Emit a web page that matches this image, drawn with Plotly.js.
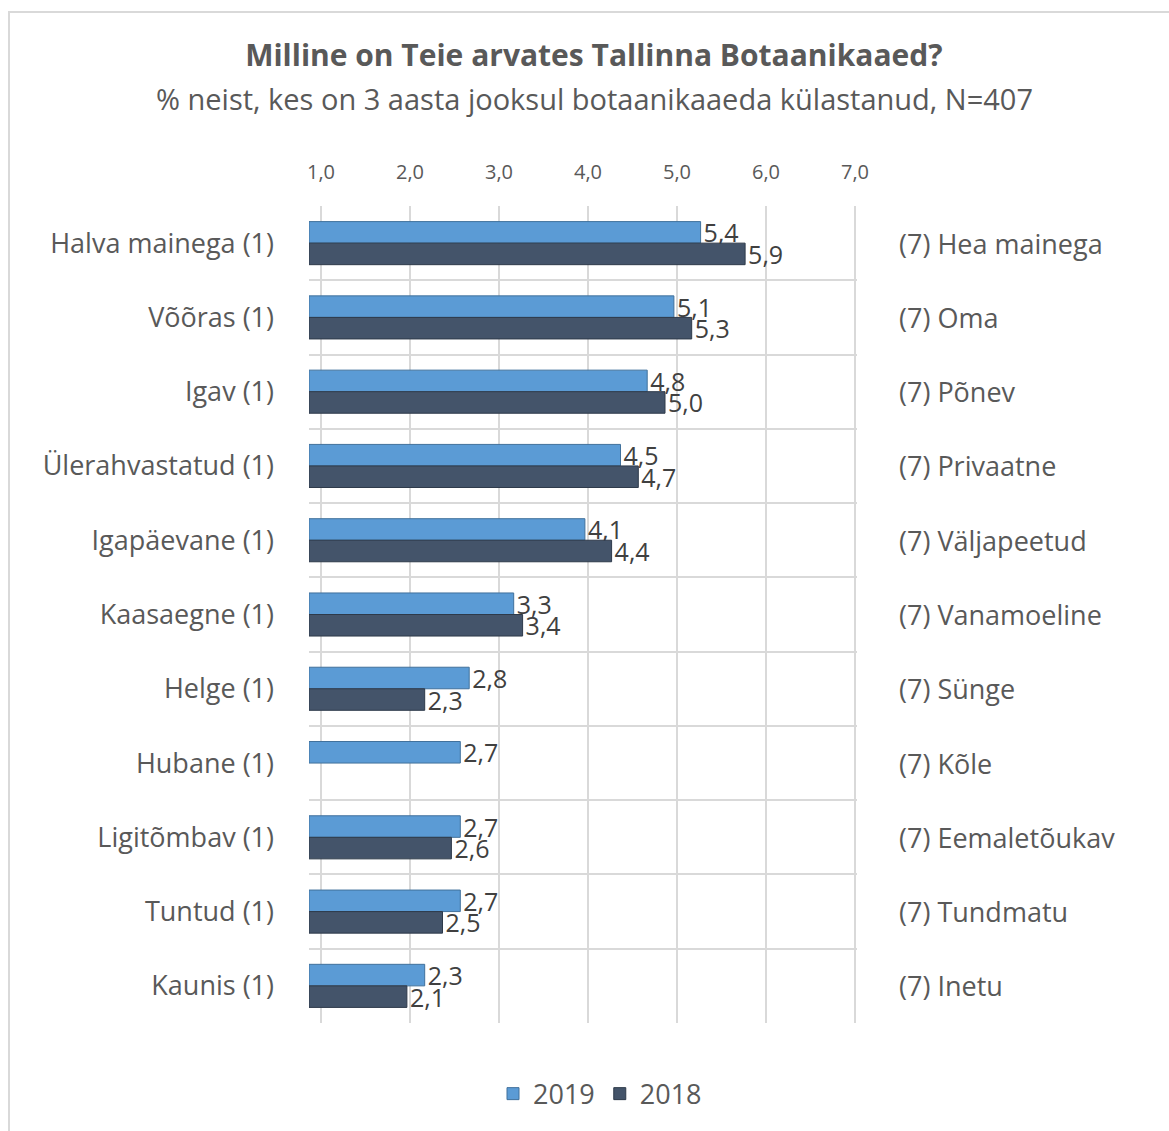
<!DOCTYPE html>
<html>
<head>
<meta charset="utf-8">
<script src="https://cdn.plot.ly/plotly-3.0.1.min.js"></script>
<style>
  body { margin: 0; overflow: hidden; background: #fff; }
  #frame { position: absolute; left: 8px; top: 11px; width: 1300px; height: 1300px;
           border-left: 2px solid #d9d9d9; border-top: 2px solid #d9d9d9; pointer-events: none; }
</style>
</head>
<body>
<div id="chart" style="width:1169px;height:1131px;"></div>
<div id="frame"></div>
<script>
// left end of each scale (value 1)
var leftLabels = ["Halva mainega (1)", "Võõras (1)", "Igav (1)", "Ülerahvastatud (1)", "Igapäevane (1)",
    "Kaasaegne (1)", "Helge (1)", "Hubane (1)", "Ligitõmbav (1)", "Tuntud (1)", "Kaunis (1)"];
// right end of each scale (value 7)
var rightLabels = ["(7) Hea mainega", "(7) Oma", "(7) Põnev", "(7) Privaatne", "(7) Väljapeetud",
    "(7) Vanamoeline", "(7) Sünge", "(7) Kõle", "(7) Eemaletõukav", "(7) Tundmatu", "(7) Inetu"];

var values2019 = [5.4, 5.1, 4.8, 4.5, 4.1, 3.3, 2.8, 2.7, 2.7, 2.7, 2.3];
var values2018 = [5.9, 5.3, 5.0, 4.7, 4.4, 3.4, 2.3, null, 2.6, 2.5, 2.1];

var scaleMin = 1, scaleMax = 7;
var textColor = "#595959";
var font = "'Open Sans', 'Noto Sans', sans-serif";

// the back wall (grid + tick labels) sits 12px right of the bars, like the 3D original
var pxPerUnit = 89, wallShift = 12, edgePad = 2;
var plotW = (scaleMax - scaleMin) * pxPerUnit + wallShift + edgePad;
var marginL = 309;

function lengths(vals) {
    return vals.map(function (v) { return v === null ? null : v - scaleMin; });
}
function labels(vals) {
    return vals.map(function (v) { return v === null ? "" : v.toFixed(1).replace(".", ","); });
}

function barTrace(name, vals, color, edge) {
    return {
        type: "bar",
        orientation: "h",
        name: name,
        y: leftLabels,
        x: lengths(vals),
        base: scaleMin,
        text: labels(vals),
        texttemplate: "%{text}",
        textposition: "outside",
        constraintext: "none",
        cliponaxis: false,
        marker: { color: color, line: { color: edge, width: 1 } },
        textfont: { size: 25, color: "#404040", family: font },
        hovertemplate: name + ": %{text}<extra></extra>"
    };
}

var trace2019 = barTrace("2019", values2019, "#5B9BD5", "#41719C");
var trace2018 = barTrace("2018", values2018, "#44546A", "#2E3A4A");

// invisible companion so the back-wall axis (x2) is drawn
var wallTrace = {
    type: "scatter",
    mode: "markers",
    x: values2019,
    y: leftLabels,
    xaxis: "x2",
    yaxis: "y",
    marker: { opacity: 0 },
    showlegend: false,
    hoverinfo: "skip"
};

var data = [wallTrace, trace2019, trace2018];

var annotations = rightLabels.map(function (t, i) {
    return {
        xref: "paper", yref: "y",
        x: (897 - marginL) / plotW, y: leftLabels[i],
        xanchor: "left", yanchor: "middle",
        text: t, showarrow: false,
        font: { size: 27, color: textColor, family: font }
    };
});
annotations.push({
    xref: "paper", yref: "paper",
    x: (594 - marginL) / plotW, y: 1.132,
    xanchor: "center", yanchor: "middle",
    text: "% neist, kes on 3 aasta jooksul botaanikaaeda külastanud, N=407",
    showarrow: false,
    font: { size: 29, color: textColor, family: font }
});

var layout = {
    width: 1169,
    height: 1131,
    margin: { l: marginL, r: 1169 - marginL - plotW, t: 206, b: 106 },
    paper_bgcolor: "#fff",
    plot_bgcolor: "#fff",
    separators: ", ",
    font: { family: font, color: textColor },
    title: {
        text: "<b>Milline on Teie arvates Tallinna Botaanikaaed?</b>",
        x: 0.508, xref: "container", xanchor: "center",
        y: 0.9505, yref: "container", yanchor: "middle",
        font: { size: 30, color: textColor, family: font }
    },
    barmode: "group",
    bargap: 0.42,
    bargroupgap: 0,
    showlegend: true,
    legend: {
        orientation: "h",
        x: (600 - marginL) / plotW, xanchor: "center",
        y: -0.087, yanchor: "middle",
        traceorder: "normal",
        font: { size: 27, color: textColor, family: font }
    },
    xaxis: {
        range: [scaleMin, scaleMin + plotW / pxPerUnit],
        showgrid: false,
        zeroline: false,
        showticklabels: false,
        fixedrange: true
    },
    xaxis2: {
        overlaying: "x",
        anchor: "y",
        side: "top",
        range: [scaleMin - wallShift / pxPerUnit, scaleMax + edgePad / pxPerUnit],
        tick0: scaleMin,
        dtick: 1,
        tickformat: ".1f",
        showgrid: true,
        gridcolor: "#d9d9d9",
        gridwidth: 2,
        zeroline: false,
        ticks: "",
        ticklabelstandoff: 22,
        fixedrange: true,
        tickfont: { size: 20, color: textColor, family: font }
    },
    yaxis: {
        type: "category",
        range: [leftLabels.length - 0.5, -0.5],
        tickson: "boundaries",
        showgrid: true,
        gridcolor: "#d9d9d9",
        gridwidth: 2,
        ticks: "",
        ticklabelstandoff: 34,
        fixedrange: true,
        tickfont: { size: 27, color: textColor, family: font }
    },
    annotations: annotations
};

Plotly.newPlot("chart", data, layout, { displayModeBar: false });
</script>
</body>
</html>
